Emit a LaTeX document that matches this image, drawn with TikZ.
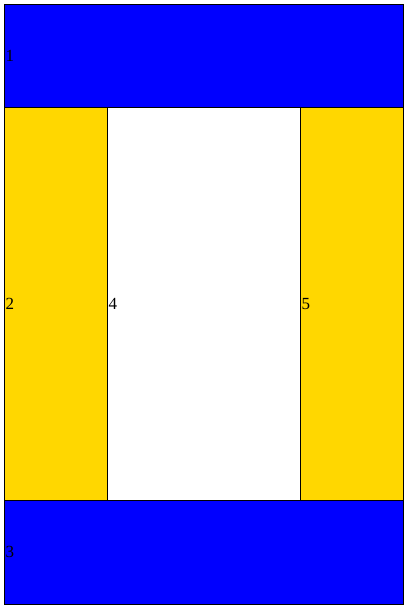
\documentclass[tikz,border=0pt]{standalone}
\usepackage{fontspec}
\setmainfont{Liberation Serif}
\definecolor{bandblue}{RGB}{0,0,255}
\definecolor{gold}{RGB}{255,215,0}
\begin{document}
\begin{tikzpicture}[x=1pt,y=-1pt,
  region/.style={draw=black,line width=1pt,inner sep=0pt,outer sep=0pt},
  lbl/.style={anchor=west,inner sep=0pt,font=\fontsize{17}{19}\selectfont,text=black}]
\useasboundingbox (0,0) rectangle (407,608);
\path[region,fill=bandblue] (4,4) rectangle (403,107);
\path[region,fill=gold] (4,107) rectangle (107,500);
\path[region,fill=white] (107,107) rectangle (300,500);
\path[region,fill=gold] (300,107) rectangle (403,500);
\path[region,fill=bandblue] (4,500) rectangle (403,604);
\node[lbl] (l1) at (5.5,56) {1};
\node[lbl] (l2) at (5.5,304) {2};
\node[lbl] (l3) at (5.5,552) {3};
\node[lbl] (l4) at (108.5,304) {4};
\node[lbl] (l5) at (301.5,304) {5};
\end{tikzpicture}
\end{document}
